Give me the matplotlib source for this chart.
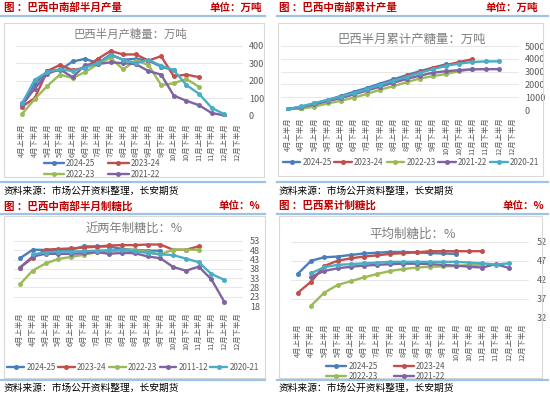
import matplotlib
matplotlib.use('Agg')
import matplotlib.pyplot as plt
import numpy as np
from matplotlib.patches import Rectangle
from matplotlib.lines import Line2D

plt.rcParams['font.family'] = ['Noto Sans CJK SC', 'DejaVu Sans']

# ---------------- data ----------------
categories = ["4月上半月", "4月下半月", "5月上半月", "5月下半月", "6月上半月", "6月下半月",
              "7月上半月", "7月下半月", "8月上半月", "8月下半月", "9月上半月", "9月下半月",
              "10月上半月", "10月下半月", "11月上半月", "11月下半月", "12月上半月", "12月下半月"]

seasons = ["2024-25", "2023-24", "2022-23", "2021-22", "2020-21"]
ratio_labels = ["2024-25", "2023-24", "2022-23", "2011-12", "2020-21"]
colors = ["#4A7EBB", "#C0504D", "#9BBB59", "#8064A2", "#4BACC6"]

nan = np.nan
# half-month production (10k t)
prod_2425 = [70, 180, 255, 260, 310, 325, 300, 350, 320, 325, 315, 280, 260]
prod_2324 = [52, 100, 255, 290, 260, 275, 325, 370, 350, 350, 315, 340, 225, 235, 220]
prod_2223 = [10, 95, 170, 235, 215, 250, 295, 330, 265, 315, 290, 175, 185, 210, 165]
prod_2122 = [60, 155, 240, 265, 220, 290, 295, 305, 300, 295, 255, 235, 115, 85, 60, 15, 2]
prod_2021 = [70, 205, 250, 265, 255, 275, 300, 345, 320, 300, 320, 285, 260, 175, 125, 45, 8]

# cumulative production (10k t)
cum_2425 = [70, 260, 520, 780, 1090, 1420, 1720, 2070, 2390, 2720, 3030, 3310, 3570]
cum_2324 = [50, 150, 410, 700, 960, 1230, 1560, 1930, 2280, 2630, 2950, 3290, 3510, 3750, 3970]
cum_2223 = [10, 100, 270, 510, 720, 970, 1260, 1590, 1860, 2170, 2460, 2640, 2820, 3030, 3190]
cum_2122 = [60, 215, 455, 720, 940, 1230, 1525, 1830, 2130, 2425, 2680, 2915, 3030, 3115, 3175, 3190, 3192]
cum_2021 = [70, 275, 525, 790, 1045, 1320, 1620, 1965, 2285, 2585, 2905, 3190, 3450, 3625, 3750, 3795, 3803]

# half-month sugar mix (%)
mix_2425 = [43.7, 48.3, 48.2, 48.3, 48.3, 50.1, 50.1, 50.0, 48.7, 48.2, 47.8, 47.8]
mix_2324 = [38.7, 43.9, 48.3, 48.7, 49.0, 49.5, 49.9, 50.6, 50.8, 50.8, 51.1, 51.1, 48.3, 48.3, 50.1]
mix_2223 = [29.7, 37.1, 40.9, 43.3, 44.4, 45.6, 47.0, 47.3, 48.3, 48.2, 47.0, 45.8, 48.3, 48.3, 48.3]
mix_1112 = [38.7, 44.7, 46.1, 46.1, 46.1, 46.4, 47.0, 46.1, 46.6, 46.4, 44.7, 43.7, 39.0, 37.0, 39.2, 32.3, 20.3]
mix_2021 = [nan, 45.8, 46.8, 47.3, 47.3, 47.5, 47.8, 48.0, 48.0, 47.5, 46.6, 45.8, 45.4, 43.5, 41.6, 35.2, 32.1]

# cumulative average sugar mix (%)
avg_2425 = [43.6, 47.0, 47.9, 48.1, 48.5, 48.9, 49.1, 49.3, 49.3, 49.2, 49.0, 48.9, 48.8]
avg_2324 = [38.6, 41.5, 45.6, 47.0, 47.6, 48.1, 48.4, 48.8, 49.0, 49.2, 49.5, 49.5, 49.5, 49.5, 49.5]
avg_2223 = [nan, 35.2, 38.6, 40.6, 41.6, 42.6, 43.5, 44.3, 44.8, 45.2, 45.4, 45.5, 45.6, 45.9, 45.9]
avg_2122 = [nan, 42.8, 44.3, 45.0, 45.4, 45.7, 45.9, 46.1, 46.2, 46.2, 46.1, 45.9, 45.7, 45.4, 45.2, 46.1, 45.1]
avg_2021 = [nan, 43.7, 45.3, 45.9, 46.1, 46.3, 46.5, 46.7, 46.7, 46.7, 46.7, 46.7, 46.7, 46.5, 46.3, 46.0, 46.3]

# ---------------- figure ----------------
W, H = 550, 395
fig = plt.figure(figsize=(W / 100, H / 100), dpi=100)

RED = "#C00000"
BLUE_LINE = "#9DC3E6"
GRAY = "#595959"
TITLE_GRAY = "#7F7F7F"


def fx(x):
    return x / W


def fy(y):
    return 1 - y / H


def rect(l, r, t, b):
    return [l / W, 1 - b / H, (r - l) / W, (b - t) / H]


def hline(x0, x1, y, color=BLUE_LINE, lw=1.6):
    fig.add_artist(Line2D([fx(x0), fx(x1)], [fy(y), fy(y)], color=color, lw=lw,
                          transform=fig.transFigure))


def frame(l, r, t, b):
    fig.add_artist(Rectangle((fx(l), fy(b)), (r - l) / W, (b - t) / H, fill=False,
                             edgecolor="#D9D9D9", lw=0.8, transform=fig.transFigure))


def header(xl, xr, y, left, right):
    fig.text(fx(xl), fy(y), left, color=RED, fontsize=7.6, fontweight='bold',
             ha='left', va='center')
    fig.text(fx(xr), fy(y), right, color=RED, fontsize=7.6, fontweight='bold',
             ha='right', va='center')


def source(x, y):
    fig.text(fx(x), fy(y), "资料来源：市场公开资料整理，长安期货", color="black",
             fontsize=7, ha='left', va='center')


def panel(r, series, labels, ylim, yticks, ypad, xpad, title, tpos, tsize,
          leg_idx, leg_center, ncol, colspace, hlen):
    ax = fig.add_axes(r)
    x = np.arange(len(categories))
    handles = []
    for vals, c in zip(series, colors):
        v = np.array(vals, dtype=float)
        h, = ax.plot(x[:len(v)], v, color=c, lw=1.7, marker='o', ms=3.6,
                     markeredgewidth=0, solid_capstyle='round')
        handles.append(h)
    ax.set_xlim(-0.5, len(categories) - 0.5)
    ax.set_ylim(*ylim)
    ax.set_yticks(yticks)
    ax.yaxis.tick_right()
    ax.tick_params(axis='y', length=0, pad=ypad, labelsize=6.5, labelcolor=GRAY)
    ax.set_xticks(x)
    ax.set_xticklabels(categories, rotation=90, fontsize=5.3, color=GRAY)
    ax.tick_params(axis='x', length=0, pad=xpad)
    ax.grid(axis='y', color="#E3E3E3", lw=0.6)
    ax.set_axisbelow(True)
    for s in ax.spines.values():
        s.set_visible(False)
    ax.set_facecolor('none')
    fig.text(fx(tpos[0]), fy(tpos[1]), title, color=TITLE_GRAY, fontsize=tsize,
             ha='center', va='center')
    fig.legend([handles[i] for i in leg_idx], [labels[i] for i in leg_idx],
               loc='center', bbox_to_anchor=(fx(leg_center[0]), fy(leg_center[1])),
               ncol=ncol, frameon=False, fontsize=5.8, labelcolor=GRAY,
               handlelength=hlen, handletextpad=0.25, columnspacing=colspace,
               labelspacing=0.2, borderpad=0, borderaxespad=0, numpoints=1)
    return ax


# frames
frame(4, 264, 23, 177)
frame(278, 543, 23, 176)
frame(4, 265, 216, 378)
frame(279, 542, 216, 378)

# blue separator lines
hline(0, 265, 15.5)
hline(277, 548, 15.5)
hline(0, 265, 182)
hline(277, 548, 182)
hline(0, 265, 213.5)
hline(277, 548, 213.5)
hline(0, 265, 380)
hline(277, 548, 380)

# headers
header(4, 262, 8, "图 ：巴西中南部半月产量", "单位：万吨")
header(279, 538, 8, "图 ：巴西中南部累计产量", "单位：万吨")
header(4, 260, 206, "图 ：巴西中南部半月制糖比", "单位：%")
header(279, 544, 206, "图 ：巴西累计制糖比", "单位：%")

source(4, 191)
source(279, 191)
source(4, 388)
source(279, 388)

# legend order for 2-column legends (row-major): 2024-25, 2023-24 / 2022-23, 2021-22
two_col_order = [0, 2, 1, 3]

# panel 1
panel(rect(15.7, 243.3, 45.7, 115.7),
      [prod_2425, prod_2324, prod_2223, prod_2122, prod_2021], seasons,
      (0, 400), [0, 100, 200, 300, 400], 4, 5.5,
      "巴西半月产糖量：万吨", (130, 34), 8.2,
      two_col_order, (102, 169), 2, 1.6, 2.5)

# panel 2
panel(rect(281.4, 518.6, 46, 110),
      [cum_2425, cum_2324, cum_2223, cum_2122, cum_2021], seasons,
      (0, 5000), [0, 1000, 2000, 3000, 4000, 5000], 4.5, 5,
      "巴西半月累计产糖量：万吨", (412, 39), 8.9,
      [0, 1, 2, 3, 4], (411, 162.5), 5, 0.35, 2.2)

# panel 3
panel(rect(13.6, 243.4, 241, 306),
      [mix_2425, mix_2324, mix_2223, mix_1112, mix_2021], ratio_labels,
      (18, 53), [18, 23, 28, 33, 38, 43, 48, 53], 4.8, 4.5,
      "近两年制糖比：%", (134, 228), 8.8,
      [0, 1, 2, 3, 4], (133, 367), 5, 0.3, 2.1)

# panel 4
panel(rect(291.4, 528.6, 241.7, 317.7),
      [avg_2425, avg_2324, avg_2223, avg_2122, avg_2021], seasons,
      (32, 52), [32, 37, 42, 47, 52], 6, 4,
      "平均制糖比：%", (413, 234), 9,
      two_col_order, (386, 371.5), 2, 2.0, 2.5)

fig.savefig("out.png", dpi=100)
